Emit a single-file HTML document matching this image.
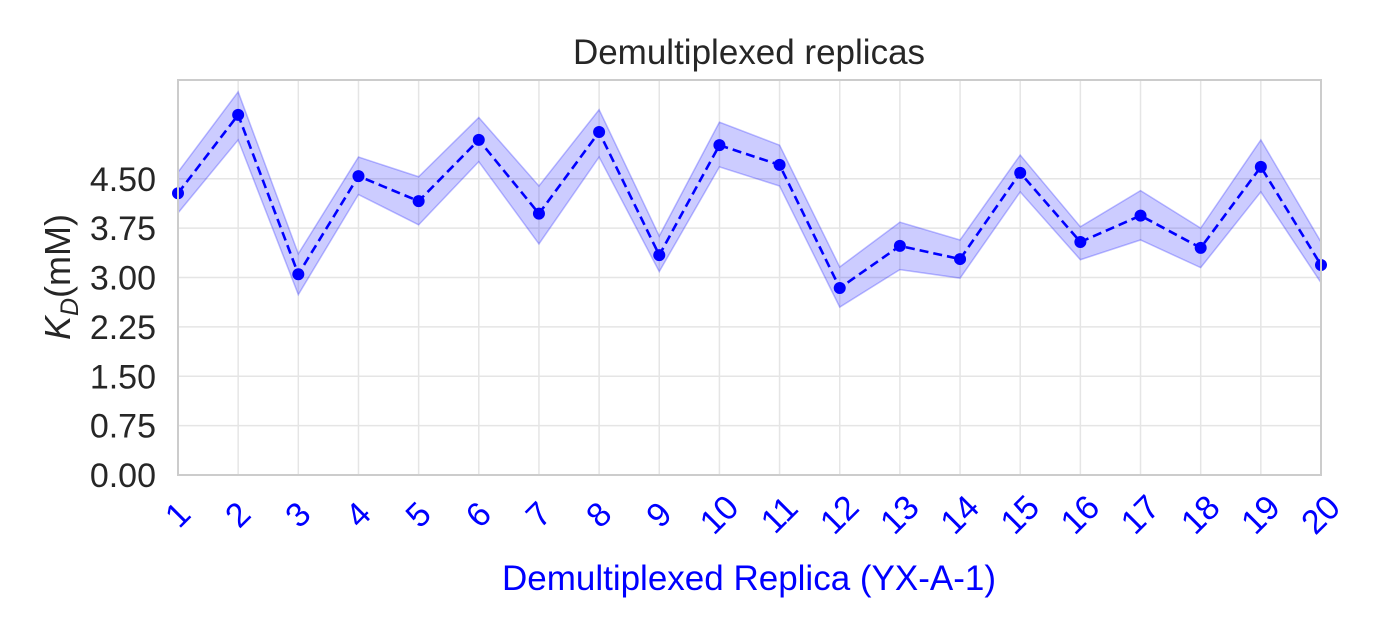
<!DOCTYPE html>
<html><head><meta charset="utf-8"><style>
body{margin:0;background:#fff;width:1386px;height:630px;overflow:hidden}
text{font-family:"Liberation Sans",Arial,sans-serif}
</style></head><body>
<svg id="chart" width="1386" height="630" xmlns="http://www.w3.org/2000/svg">
<text x="749" y="64" font-size="35" fill="#262626" text-anchor="middle">Demultiplexed replicas</text>
<g id="grid"></g>
<g id="band"></g>
<g id="series"></g>
<rect x="178" y="80" width="1143" height="395" fill="none" stroke="#cccccc" stroke-width="2"/>
<g id="yticks"></g>
<g id="xticks"></g>
<text transform="translate(70,277) rotate(-90)" font-size="36" fill="#262626" text-anchor="middle"><tspan font-style="italic">K</tspan><tspan font-style="italic" font-size="25" dy="8">D</tspan><tspan dy="-8">(mM)</tspan></text>
<text x="749" y="590" font-size="35" fill="#0000ff" text-anchor="middle">Demultiplexed Replica (YX-A-1)</text>
</svg>
<script>
const categories=[1,2,3,4,5,6,7,8,9,10,11,12,13,14,15,16,17,18,19,20];
const kdValues=[4.28,5.47,3.05,4.54,4.16,5.09,3.97,5.21,3.34,5.01,4.71,2.84,3.48,3.28,4.59,3.54,3.94,3.45,4.68,3.19];
const upperValues=[4.60,5.82,3.36,4.83,4.53,5.43,4.39,5.55,3.63,5.36,5.01,3.16,3.84,3.57,4.86,3.77,4.32,3.75,5.09,3.54];
const lowerValues=[3.98,5.09,2.74,4.26,3.80,4.76,3.51,4.83,3.09,4.68,4.39,2.55,3.12,2.99,4.30,3.27,3.57,3.15,4.30,2.92];
const yTicks=[0,0.75,1.5,2.25,3,3.75,4.5];
const yTickLabels=["0.00","0.75","1.50","2.25","3.00","3.75","4.50"];
const NS="http://www.w3.org/2000/svg";
const L=178,R=1321,T=80,B=475,yMax=6.0;
const x=c=>L+(c-1)*(R-L)/(categories.length-1);
const y=v=>B-v*(B-T)/yMax;
function mk(tag,attrs,parent){const e=document.createElementNS(NS,tag);for(const k in attrs)e.setAttribute(k,attrs[k]);document.getElementById(parent).appendChild(e);return e;}
categories.forEach(c=>{const e=mk('line',{x1:x(c),x2:x(c),y1:T,y2:B,stroke:'#e5e5e5','stroke-width':1.5},'grid');

});
yTicks.forEach((v,i)=>{const e=mk('line',{x1:L,x2:R,y1:y(v),y2:y(v),stroke:'#e5e5e5','stroke-width':1.5},'grid');


const t=mk('text',{x:156,y:y(v)+12,'font-size':34,fill:'#262626','text-anchor':'end'},'yticks');t.textContent=yTickLabels[i];

});
let d='';categories.forEach((c,i)=>{d+=(i?'L':'M')+x(c)+','+y(upperValues[i]);});
for(let i=categories.length-1;i>=0;i--)d+='L'+x(categories[i])+','+y(lowerValues[i]);d+='Z';
const b=mk('path',{d:d,fill:'rgba(0,0,255,0.2)',stroke:'rgba(0,0,255,0.25)','stroke-width':1.5},'band');


const ln=mk('polyline',{points:categories.map((c,i)=>x(c)+','+y(kdValues[i])).join(' '),fill:'none',stroke:'#0000ff','stroke-width':2.6,'stroke-dasharray':'9,5'},'series');


categories.forEach((c,i)=>{const p=mk('circle',{cx:x(c),cy:y(kdValues[i]),r:6,fill:'#0000ff'},'series');


const t=mk('text',{'font-size':34,fill:'#0000ff','text-anchor':'middle','dominant-baseline':'central',transform:`translate(${x(c)},515) rotate(-45)`},'xticks');t.textContent=c;

});
</script>
</body></html>
